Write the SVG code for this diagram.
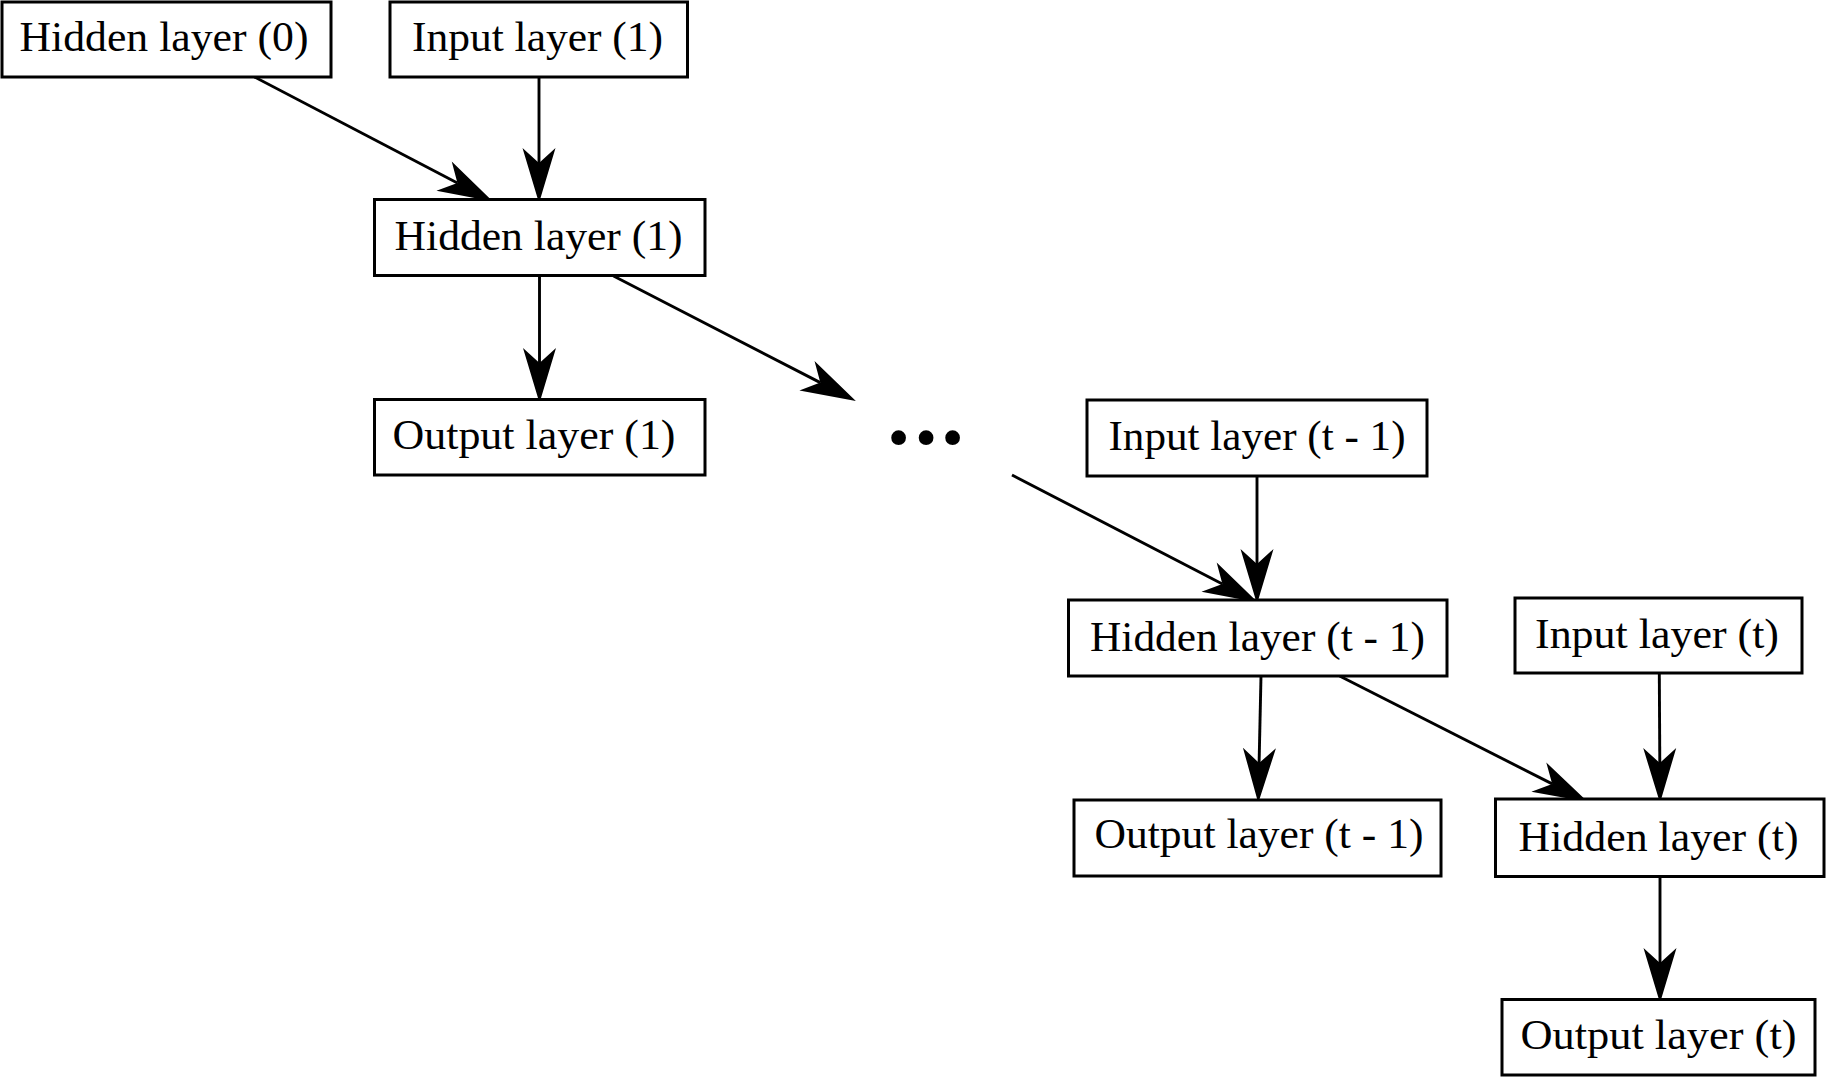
<svg xmlns="http://www.w3.org/2000/svg" width="1826" height="1078" viewBox="0 0 1826 1078">
  <style>
    .box { fill: #ffffff; stroke: #000000; stroke-width: 3; }
    .lbl { font-family: "Liberation Serif", "DejaVu Serif", serif; font-size: 43px; fill: #000000; text-anchor: middle; }
    .dots { font-family: "Liberation Serif", "DejaVu Serif", serif; font-size: 62px; fill: #000000; text-anchor: middle; }
    .edge { fill: none; stroke: #000000; stroke-width: 2.9; }
  </style>
  <defs>
    <!-- open "vee" arrowhead; the line ends at the notch -->
    <marker id="vee" markerUnits="userSpaceOnUse" markerWidth="56" markerHeight="34" refX="15" refY="16" orient="auto" overflow="visible">
      <path d="M55,16 L0,-0.5 L15,16 L0,32.5 Z" fill="#000000"/>
    </marker>
  </defs>
  <rect width="1826" height="1078" fill="#ffffff"/>

  <!-- connectors -->
  <g id="edges">
    <line class="edge" x1="254.5" y1="77" x2="457.4" y2="183" marker-end="url(#vee)"/>
    <line class="edge" x1="539" y1="77" x2="539" y2="163" marker-end="url(#vee)"/>
    <line class="edge" x1="539.5" y1="276" x2="539.5" y2="363" marker-end="url(#vee)"/>
    <line class="edge" x1="613.5" y1="276" x2="820.3" y2="382.6" marker-end="url(#vee)"/>
    <line class="edge" x1="1012" y1="475" x2="1222.4" y2="584" marker-end="url(#vee)"/>
    <line class="edge" x1="1257" y1="476" x2="1257" y2="564" marker-end="url(#vee)"/>
    <line class="edge" x1="1261" y1="676" x2="1259.1" y2="763" marker-end="url(#vee)"/>
    <line class="edge" x1="1339.6" y1="676" x2="1552.2" y2="783.9" marker-end="url(#vee)"/>
    <line class="edge" x1="1659.3" y1="673" x2="1659.8" y2="763" marker-end="url(#vee)"/>
    <line class="edge" x1="1660" y1="877" x2="1660" y2="963" marker-end="url(#vee)"/>
  </g>

  <!-- nodes -->
  <g id="hidden0">
    <rect class="box" x="2" y="2" width="329" height="75"/>
    <text class="lbl" x="164" y="51" textLength="289" lengthAdjust="spacingAndGlyphs">Hidden layer (0)</text>
  </g>
  <g id="input1">
    <rect class="box" x="390" y="2" width="297.5" height="75"/>
    <text class="lbl" x="537.5" y="51" textLength="251" lengthAdjust="spacingAndGlyphs">Input layer (1)</text>
  </g>
  <g id="hidden1">
    <rect class="box" x="374.5" y="199.5" width="330.5" height="76"/>
    <text class="lbl" x="538.6" y="249.5" textLength="288" lengthAdjust="spacingAndGlyphs">Hidden layer (1)</text>
  </g>
  <g id="output1">
    <rect class="box" x="374.5" y="399.5" width="330.5" height="75.5"/>
    <text class="lbl" x="534" y="449" textLength="283" lengthAdjust="spacingAndGlyphs">Output layer (1)</text>
  </g>
  <g id="ellipsis">
    <text class="dots" y="457.5"><tspan x="898.5">•</tspan><tspan x="926">•</tspan><tspan x="952.7">•</tspan></text>
  </g>
  <g id="input_t_minus_1">
    <rect class="box" x="1087" y="400" width="340" height="76"/>
    <text class="lbl" x="1257" y="449.5" textLength="297" lengthAdjust="spacingAndGlyphs">Input layer (t - 1)</text>
  </g>
  <g id="hidden_t_minus_1">
    <rect class="box" x="1068.5" y="600" width="378.5" height="76"/>
    <text class="lbl" x="1257.5" y="650.5" textLength="335" lengthAdjust="spacingAndGlyphs">Hidden layer (t - 1)</text>
  </g>
  <g id="input_t">
    <rect class="box" x="1515" y="598" width="287" height="75"/>
    <text class="lbl" x="1657" y="648" textLength="244" lengthAdjust="spacingAndGlyphs">Input layer (t)</text>
  </g>
  <g id="output_t_minus_1">
    <rect class="box" x="1074" y="800" width="367" height="76"/>
    <text class="lbl" x="1259" y="848" textLength="329" lengthAdjust="spacingAndGlyphs">Output layer (t - 1)</text>
  </g>
  <g id="hidden_t">
    <rect class="box" x="1495.5" y="799" width="328.5" height="77.5"/>
    <text class="lbl" x="1658.5" y="851" textLength="280" lengthAdjust="spacingAndGlyphs">Hidden layer (t)</text>
  </g>
  <g id="output_t">
    <rect class="box" x="1502" y="999.5" width="313" height="75.5"/>
    <text class="lbl" x="1658.5" y="1048.5" textLength="276" lengthAdjust="spacingAndGlyphs">Output layer (t)</text>
  </g>
</svg>
